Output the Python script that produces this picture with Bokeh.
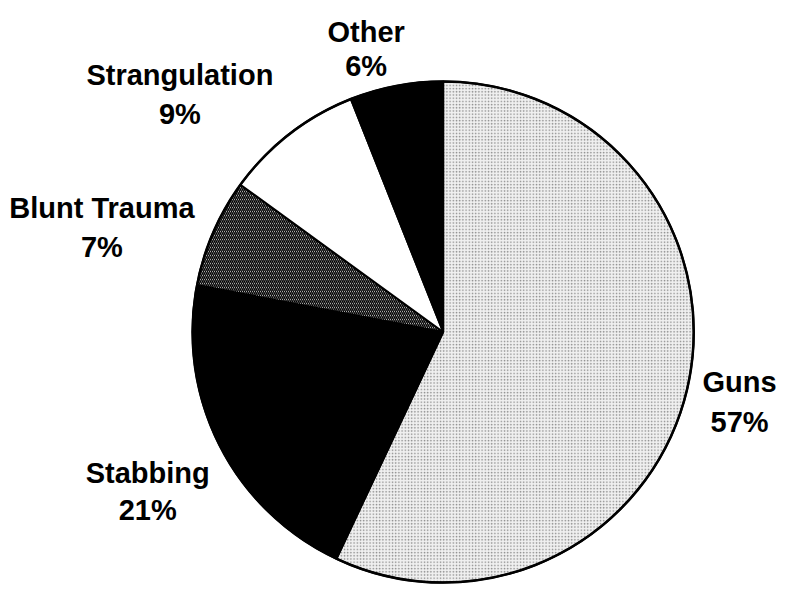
import math
from bokeh.plotting import figure
from bokeh.models import Range1d, ColumnDataSource
from bokeh.core.properties import value
from bokeh.embed import file_html
from bokeh.resources import INLINE

# ---- data (clockwise from 12 o'clock) ----
categories = ["Guns", "Stabbing", "Blunt Trauma", "Strangulation", "Other"]
percents = [57, 21, 7, 9, 6]

# ---- styles ----
fills = ["#f0f0f0", "black", "white", "white", "black"]
hatches = ["dot", " ", "\\", " ", " "]
hatch_colors = ["#8a8a8a", "black", "black", "black", "black"]
hatch_scales = [3.2, 12, 4, 12, 12]
hatch_weights = [0.9, 1, 1.5, 1, 1]

W, H = 782, 585
S = 0.975  # fit the reference layout into the available page area
p = figure(width=W, height=H, output_backend="svg", toolbar_location=None,
           x_range=Range1d(0, W / S), y_range=Range1d(601 - H / S, 601),
           min_border=0)
p.axis.visible = False
p.grid.visible = False
p.outline_line_color = None
p.background_fill_color = "white"
p.border_fill_color = "white"

# clockwise from 90 degrees
total = sum(percents)
starts, ends = [], []
cur = 90.0
for v in percents:
    nxt = cur - v / total * 360.0
    starts.append(math.radians(nxt))
    ends.append(math.radians(cur))
    cur = nxt

cx, cy, r = 454, 601 - 340, 257
src = ColumnDataSource(dict(cat=categories, pct=percents, start=starts, end=ends,
                            fill=fills, hatch=hatches, hcol=hatch_colors,
                            hscale=hatch_scales, hw=hatch_weights))
p.wedge(x=cx, y=cy, radius=r, start_angle="start", end_angle="end", source=src,
        fill_color="fill", line_color="black", line_width=2,
        hatch_pattern="hatch", hatch_color="hcol", hatch_scale="hscale",
        hatch_weight="hw")
p.circle(x=cx, y=cy, radius=r, fill_color=None, line_color="black", line_width=2.5)

# label positions (reference coords: centre x, baseline of name, baseline of percent)
label_pos = {
    "Guns": (758, 391, 432),
    "Stabbing": (151, 485, 523),
    "Blunt Trauma": (104, 213, 253),
    "Strangulation": (184, 76, 116),
    "Other": (375, 32, 67),
}
lx = [label_pos[c][0] for c in categories]
ly1 = [601 - label_pos[c][1] for c in categories]
ly2 = [601 - label_pos[c][2] for c in categories]
pct_txt = [f"{v}%" for v in percents]

common = dict(text_font=value("Liberation Sans"), text_font_style="bold",
              text_font_size="29px", text_align="center",
              text_baseline="alphabetic", text_color="black")
p.text(x=lx, y=ly1, text=categories, **common)
p.text(x=lx, y=ly2, text=pct_txt, **common)

open("out.html", "w").write(file_html(p, INLINE))
